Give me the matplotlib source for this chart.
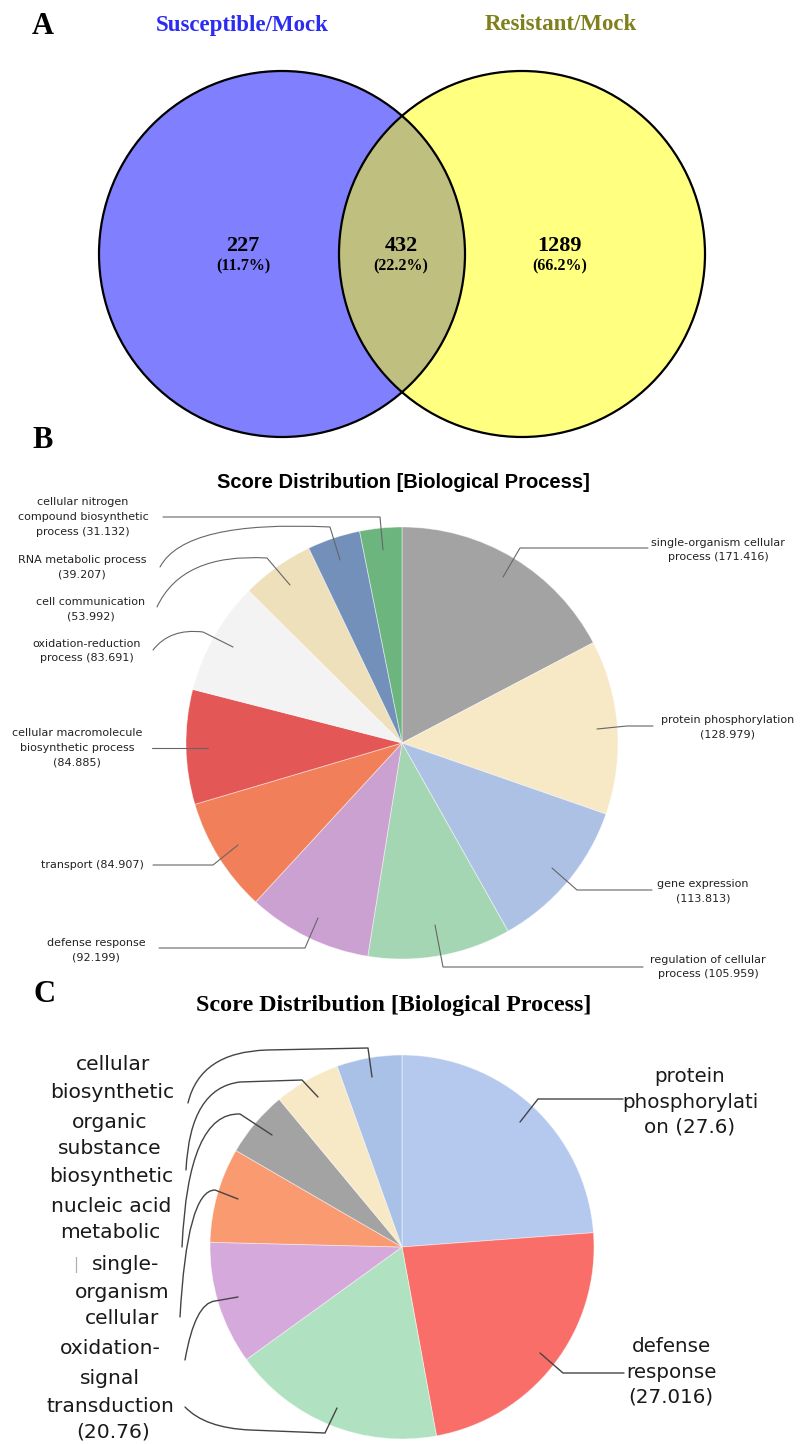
import matplotlib
matplotlib.use('Agg')
import matplotlib.pyplot as plt
from matplotlib.patches import Circle, PathPatch
from matplotlib.path import Path

W, H = 803, 1444
DPI = 100

# ---------------- data ----------------
# Panel A (Venn)
venn_sets = ["Susceptible/Mock", "Resistant/Mock"]
venn_counts = [227, 432, 1289]          # only susceptible, shared, only resistant
venn_colors = ["#8080ff", "#bfbf80", "#ffff80"]
venn_title_colors = ["#2b2bf2", "#7f7f1c"]

# Panel B (score distribution, first set)
bp1_names = [
    "single-organism cellular\nprocess ({})",
    "protein phosphorylation\n({})",
    "gene expression\n({})",
    "regulation of cellular\nprocess ({})",
    "defense response\n({})",
    "transport ({})",
    "cellular macromolecule\nbiosynthetic process\n({})",
    "oxidation-reduction\nprocess ({})",
    "cell communication\n({})",
    "RNA metabolic process\n({})",
    "cellular nitrogen\ncompound biosynthetic\nprocess ({})",
]
bp1_values = [171.416, 128.979, 113.813, 105.959, 92.199, 84.907,
              84.885, 83.691, 53.992, 39.207, 31.132]
bp1_colors = ["#a3a3a3", "#f7e8c6", "#adc1e5", "#a5d6b4", "#cba1d2", "#f17f5a",
              "#e35757", "#f3f3f3", "#ede0bb", "#7290b9", "#6db57f"]

# Panel C (score distribution, second set)
bp2_names = ["protein\nphosphorylati\non ({})", "defense\nresponse\n({})",
             "signal transduction", "oxidation-", "single-organism cellular",
             "nucleic acid metabolic", "organic substance biosynthetic",
             "cellular biosynthetic"]
bp2_values = [27.6, 27.016, 20.76, 12.0, 9.25, 6.48, 6.44, 6.35]
bp2_colors = ["#b5c9ee", "#fa6e6a", "#b0e2c1", "#d6a9dd", "#f99a70",
              "#a3a3a3", "#f8e9c6", "#a9c1e6"]
bp2_left_lines = ["cellular", "biosynthetic", "organic", "substance",
                  "biosynthetic", "nucleic acid", "metabolic", "single-",
                  "organism", "cellular", "oxidation-", "signal",
                  "transduction", "({})"]

# ---------------- figure ----------------
fig = plt.figure(figsize=(W / DPI, H / DPI), dpi=DPI)
ax = fig.add_axes([0, 0, 1, 1])


def Y(py):
    return H - py


def leader(segs, color="#666666", lw=0.8):
    verts, codes = [], []
    for s in segs:
        if s[0] == 'M':
            verts.append((s[1][0], Y(s[1][1]))); codes.append(Path.MOVETO)
        elif s[0] == 'L':
            verts.append((s[1][0], Y(s[1][1]))); codes.append(Path.LINETO)
        elif s[0] == 'Q':
            verts.append((s[1][0], Y(s[1][1]))); codes.append(Path.CURVE3)
            verts.append((s[2][0], Y(s[2][1]))); codes.append(Path.CURVE3)
    ax.add_patch(PathPatch(Path(verts, codes), fill=False, ec=color, lw=lw,
                           capstyle='round', joinstyle='round'))


serif = "Liberation Serif"
sans = "DejaVu Sans"

# ---------------- Panel A ----------------
ax.text(43, Y(27), "A", ha='center', va='center', fontsize=22,
        fontweight='bold', family=serif)
cxL, cxR, cy, r = 282, 522, 254, 183
cL = Circle((cxL, Y(cy)), r, fc=venn_colors[0], ec='none')
cR = Circle((cxR, Y(cy)), r, fc=venn_colors[2], ec='none')
ax.add_patch(cL)
ax.add_patch(cR)
inter = Circle((cxL, Y(cy)), r, fc=venn_colors[1], ec='none')
ax.add_patch(inter)
clipc = Circle((cxR, Y(cy)), r, transform=ax.transData)
inter.set_clip_path(clipc)
for cx in (cxL, cxR):
    ax.add_patch(Circle((cx, Y(cy)), r, fill=False, ec='black', lw=1.6))

ax.text(242, Y(25), venn_sets[0], ha='center', va='center', fontsize=16.5,
        fontweight='bold', family=serif, color=venn_title_colors[0])
ax.text(561, Y(25), venn_sets[1], ha='center', va='center', fontsize=16.5,
        fontweight='bold', family=serif, color=venn_title_colors[1])
total = sum(venn_counts)
for xpos, c in zip([243, 401, 560], venn_counts):
    ax.text(xpos, Y(246), str(c), ha='center', va='center', fontsize=16,
            fontweight='bold', family=serif)
    ax.text(xpos, Y(266), "({:.1f}%)".format(c / total * 100), ha='center',
            va='center', fontsize=11.5, fontweight='bold', family=serif)

# ---------------- Panel B ----------------
ax.text(43, Y(440), "B", ha='center', va='center', fontsize=22,
        fontweight='bold', family=serif)
ax.text(403, Y(483), "Score Distribution [Biological Process]", ha='center',
        va='center', fontsize=14.5, fontweight='bold', family="Liberation Sans")
ax.pie(bp1_values, colors=bp1_colors, startangle=90, counterclock=False,
       center=(402, Y(743)), radius=216,
       wedgeprops=dict(edgecolor=(1, 1, 1, 0.5), linewidth=0.6))

bp1_pos = [(718, 550), (728, 727), (703, 891), (708, 967), (96, 950),
           (92, 865), (77, 748), (87, 651), (91, 609), (82, 567), (83, 517)]
for name, v, (px, py) in zip(bp1_names, bp1_values, bp1_pos):
    ax.text(px, Y(py), name.format(v), ha='center', va='center', fontsize=8,
            family=sans, color="#222222", linespacing=1.6)

bp1_leaders = [
    [('M', (503, 577)), ('L', (520, 548)), ('L', (648, 548))],
    [('M', (597, 729)), ('L', (627, 726)), ('L', (653, 726))],
    [('M', (552, 868)), ('L', (577, 890)), ('L', (652, 890))],
    [('M', (435, 925)), ('L', (443, 967)), ('L', (643, 967))],
    [('M', (318, 918)), ('L', (305, 948)), ('L', (159, 948))],
    [('M', (238, 845)), ('L', (213, 865)), ('L', (153, 865))],
    [('M', (208, 748)), ('L', (152, 748))],
    [('M', (233, 647)), ('L', (203, 632)), ('Q', (170, 628), (153, 650))],
    [('M', (290, 585)), ('L', (267, 558)), ('Q', (182, 553), (157, 607))],
    [('M', (340, 560)), ('L', (330, 527)), ('Q', (185, 520), (160, 567))],
    [('M', (383, 550)), ('L', (380, 517)), ('L', (163, 517))],
]
for segs in bp1_leaders:
    leader(segs)

# ---------------- Panel C ----------------
ax.text(45, Y(995), "C", ha='center', va='center', fontsize=22,
        fontweight='bold', family=serif)
ax.text(394, Y(1005), "Score Distribution [Biological Process]", ha='center',
        va='center', fontsize=17.3, fontweight='bold', family=serif)
ax.pie(bp2_values, colors=bp2_colors, startangle=90, counterclock=False,
       center=(402, Y(1247)), radius=192,
       wedgeprops=dict(edgecolor=(1, 1, 1, 0.5), linewidth=0.6))

ax.text(690, Y(1102), bp2_names[0].format(bp2_values[0]), ha='center',
        va='center', fontsize=14.3, family=sans, color="#1a1a1a", linespacing=1.4)
ax.text(671, Y(1372), bp2_names[1].format(bp2_values[1]), ha='center',
        va='center', fontsize=14.3, family=sans, color="#1a1a1a", linespacing=1.4)

left_y = [1065, 1093, 1123, 1148, 1177, 1207, 1233, 1265, 1292, 1318,
          1348, 1378, 1407, 1432]
left_x = [113, 112, 110, 110, 111, 111, 110, 126, 122, 122, 110, 110, 110, 113]
for txt, lx, ly in zip(bp2_left_lines, left_x, left_y):
    ax.text(lx, Y(ly), txt.format(bp2_values[2]), ha='center', va='center',
            fontsize=14.6, family=sans, color="#1a1a1a")
ax.text(76, Y(1265), "|", ha='center', va='center', fontsize=11,
        family=sans, color="#b0b0b0")

bp2_leaders = [
    [('M', (188, 1103)), ('Q', (200, 1052), (267, 1050)), ('L', (368, 1048)), ('L', (372, 1077))],
    [('M', (186, 1170)), ('Q', (190, 1088), (240, 1082)), ('L', (302, 1080)), ('L', (318, 1097))],
    [('M', (182, 1247)), ('Q', (188, 1112), (240, 1114)), ('L', (272, 1135))],
    [('M', (180, 1317)), ('Q', (187, 1190), (215, 1190)), ('L', (238, 1199))],
    [('M', (185, 1360)), ('Q', (195, 1303), (215, 1301)), ('L', (238, 1297))],
    [('M', (185, 1407)), ('Q', (205, 1428), (250, 1430)), ('L', (325, 1433)), ('L', (337, 1408))],
    [('M', (520, 1122)), ('L', (538, 1099)), ('L', (623, 1099))],
    [('M', (540, 1353)), ('L', (563, 1373)), ('L', (624, 1373))],
]
for segs in bp2_leaders:
    leader(segs, color="#444444", lw=1.0)

ax.set_xlim(0, W)
ax.set_ylim(0, H)
ax.set_aspect('auto')
ax.axis('off')

fig.savefig("out.png", dpi=DPI)
